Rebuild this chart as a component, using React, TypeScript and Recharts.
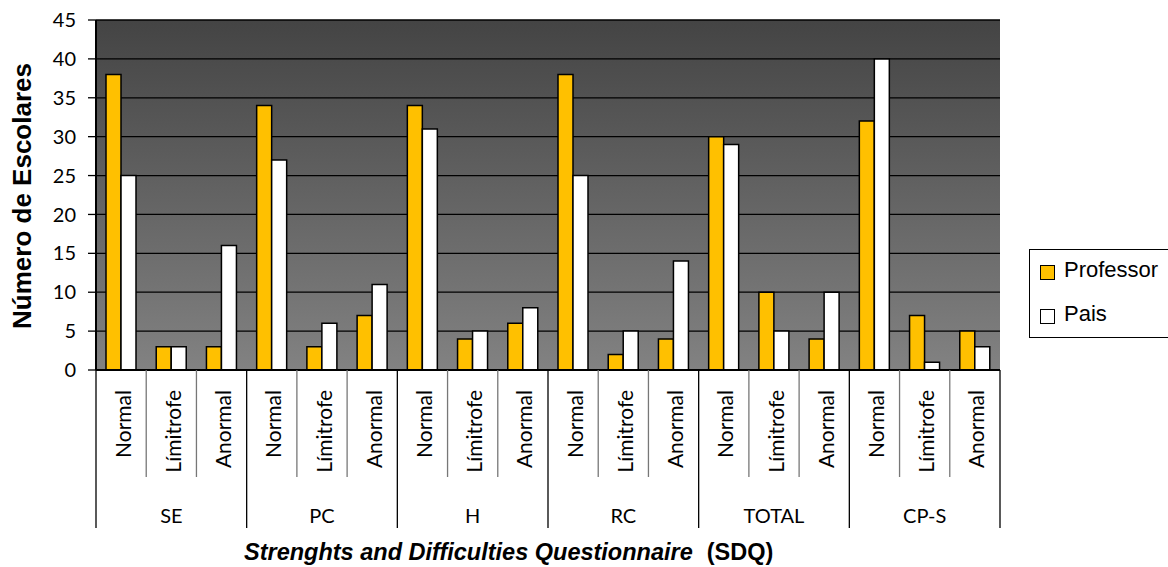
import { BarChart, Bar, XAxis, YAxis, CartesianGrid, Label } from "recharts";

// SDQ scales and result bands
const groups = ["SE", "PC", "H", "RC", "TOTAL", "CP-S"];
const levels = ["Normal", "Límitrofe", "Anormal"];

// Number of pupils per scale/band, rated by teacher and by parents
const professor = [38, 3, 3, 34, 3, 7, 34, 4, 6, 38, 2, 4, 30, 10, 4, 32, 7, 5];
const pais = [25, 3, 16, 27, 6, 11, 31, 5, 8, 25, 5, 14, 29, 5, 10, 40, 1, 3];

const yTicks = [0, 5, 10, 15, 20, 25, 30, 35, 40, 45];

const data = professor.map((p, i) => ({
  id: `${groups[Math.floor(i / 3)]}-${levels[i % 3]}`,
  group: groups[Math.floor(i / 3)],
  level: levels[i % 3],
  professor: p,
  pais: pais[i],
}));

const W = 1168;
const H = 567;
const LEFT = 96;
const RIGHT_GAP = 168;
const TOP = 20;
const X_AXIS_H = 197;
const BAND = (W - LEFT - RIGHT_GAP) / data.length;

const ORANGE = "#FFC000";
const TICK_FONT = "Lato, 'Open Sans', sans-serif";
const TITLE_FONT = "'Liberation Sans', Arial, sans-serif";

const CategoryTick = (props: any) => {
  const { x, y, index } = props;
  const row = data[index];
  const groupStart = index % 3 === 0;
  const last = index === data.length - 1;
  return (
    <g>
      <line
        x1={x - BAND / 2}
        x2={x - BAND / 2}
        y1={y}
        y2={y + (groupStart ? 158 : 107)}
        stroke={groupStart ? "#000" : "#777"}
        strokeWidth={1.3}
      />
      {last && (
        <line x1={x + BAND / 2} x2={x + BAND / 2} y1={y} y2={y + 158} stroke="#000" strokeWidth={1.3} />
      )}
      <text
        transform={`translate(${x + 1},${y + 20}) rotate(-90)`}
        textAnchor="end"
        dominantBaseline="central"
        fontFamily={TICK_FONT}
        fontSize={21}
        fill="#000"
      >
        {row.level}
      </text>
      {index % 3 === 1 && (
        <text
          x={x}
          y={y + 145}
          textAnchor="middle"
          dominantBaseline="central"
          fontFamily={TICK_FONT}
          fontSize={20}
          fill="#000"
        >
          {row.group}
        </text>
      )}
    </g>
  );
};

const legendItems = [
  { name: "Professor", color: ORANGE, top: 4 },
  { name: "Pais", color: "#fff", top: 48 },
];

const LegendBox = () => (
  <div
    style={{
      position: "absolute",
      left: 1029,
      top: 249,
      width: 150,
      height: 89,
      border: "1.5px solid #000",
      background: "#fff",
      fontFamily: TITLE_FONT,
      fontSize: 22,
      boxSizing: "border-box",
    }}
  >
    {legendItems.map((item) => (
      <div
        key={item.name}
        style={{ position: "absolute", left: 10, top: item.top, display: "flex", alignItems: "center", height: 32 }}
      >
        <span
          style={{
            display: "inline-block",
            width: 13,
            height: 13,
            background: item.color,
            border: "1.5px solid #000",
            marginRight: 9,
            marginTop: 4,
          }}
        />
        <span>{item.name}</span>
      </div>
    ))}
  </div>
);

export default function App() {
  return (
    <div style={{ width: W, height: H, position: "relative", overflow: "hidden", background: "#fff" }}>
      <style>{"body{margin:0}"}</style>
      <svg width={0} height={0} style={{ position: "absolute" }}>
        <defs>
          <linearGradient id="plotBg" x1="0" y1="0" x2="0" y2="1">
            <stop offset="0%" stopColor="#444444" />
            <stop offset="100%" stopColor="#828282" />
          </linearGradient>
        </defs>
      </svg>
      <BarChart
        width={W}
        height={H}
        data={data}
        margin={{ top: TOP, right: RIGHT_GAP, bottom: 0, left: 0 }}
        barGap={0}
      >
        <CartesianGrid vertical={false} stroke="#000" strokeWidth={1.3} fill="url(#plotBg)" fillOpacity={1} />
        <XAxis
          dataKey="id"
          interval={0}
          height={X_AXIS_H}
          tickLine={false}
          tickSize={0}
          tickMargin={0}
          axisLine={{ stroke: "#000", strokeWidth: 2 }}
          tick={<CategoryTick />}
        >
          <Label
            content={() => (
              <text x={244} y={560} fontFamily={TITLE_FONT} fontSize={23.5} fontWeight="bold" fill="#000">
                <tspan fontStyle="italic">Strenghts and Difficulties Questionnaire</tspan>
                <tspan dx={14}>(SDQ)</tspan>
              </text>
            )}
          />
        </XAxis>
        <YAxis
          domain={[0, 45]}
          ticks={yTicks}
          interval={0}
          width={LEFT}
          tickSize={8}
          tickMargin={12}
          tickLine={{ stroke: "#000", strokeWidth: 1.3 }}
          axisLine={{ stroke: "#000", strokeWidth: 2 }}
          tick={{ fontFamily: TICK_FONT, fontSize: 20, fill: "#000" }}
        >
          <Label
            content={() => (
              <text
                transform="translate(22,196) rotate(-90)"
                textAnchor="middle"
                dominantBaseline="central"
                fontFamily={TITLE_FONT}
                fontSize={26}
                fontWeight="bold"
                fill="#000"
              >
                Número de Escolares
              </text>
            )}
          />
        </YAxis>
        <YAxis
          yAxisId="frame"
          orientation="right"
          width={0}
          tick={false}
          tickLine={false}
          axisLine={{ stroke: "#000", strokeWidth: 2 }}
        />
        <Bar dataKey="professor" name="Professor" fill={ORANGE} stroke="#000" strokeWidth={1.5} barSize={15} isAnimationActive={false} />
        <Bar dataKey="pais" name="Pais" fill="#fff" stroke="#000" strokeWidth={1.5} barSize={15} isAnimationActive={false} />
      </BarChart>
      <LegendBox />
    </div>
  );
}
